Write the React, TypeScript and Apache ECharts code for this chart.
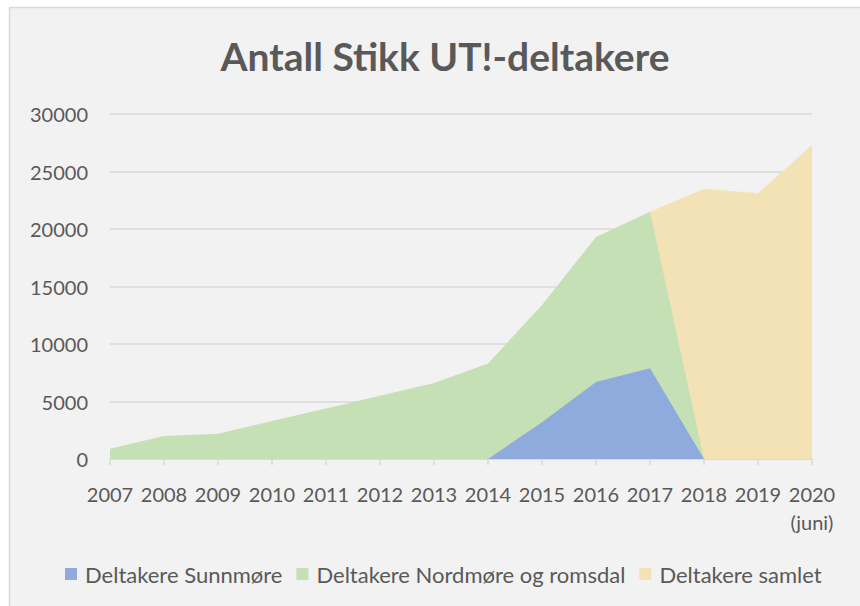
import React, { useEffect, useRef } from "react";
import * as echarts from "echarts";

const years = ["2007", "2008", "2009", "2010", "2011", "2012", "2013", "2014", "2015", "2016", "2017", "2018", "2019", "2020\n(juni)"];
const sunnmore = [0, 0, 0, 0, 0, 0, 0, 0, 3200, 6700, 7900, 0, 0, 0];
const nordmore = [900, 2000, 2200, 3300, 4400, 5500, 6600, 8300, 13400, 19300, 21500, 0, 0, 0];
const samlet = [0, 0, 0, 0, 0, 0, 0, 0, 0, 0, 21500, 23500, 23100, 27300];
const seriesNames = ["Deltakere Sunnmøre", "Deltakere Nordmøre og romsdal", "Deltakere samlet"];
const yTicks = { min: 0, max: 30000, interval: 5000 };

export default function App() {
  const ref = useRef<HTMLDivElement>(null);
  useEffect(() => {
    if (!ref.current) return;
    const chart = echarts.init(ref.current, undefined, { renderer: "svg" });
    const font = "Lato";
    const txt = "#595959";
    chart.setOption({
      animation: false,
      backgroundColor: "#ffffff",
      graphic: [
        {
          type: "rect",
          z: -10,
          silent: true,
          shape: { x: 9.5, y: 7.5, width: 870, height: 620 },
          style: { fill: "#f2f2f2", stroke: "#d9d9d9", lineWidth: 1.5 },
        },
      ],
      title: {
        text: "Antall Stikk UT!-deltakere",
        left: 440,
        textAlign: "center",
        top: 31,
        textStyle: { fontFamily: font, fontWeight: "bold", fontSize: 39, color: txt },
      },
      legend: {
        data: seriesNames,
        top: 558,
        left: 60,
        icon: "rect",
        itemWidth: 12,
        itemHeight: 12,
        itemGap: 14,
        textStyle: { fontFamily: font, fontSize: 22, color: txt, padding: [0, 0, 0, 3] },
      },
      grid: { left: 110, right: 48, top: 114, bottom: 147 },
      xAxis: {
        type: "category",
        data: years,
        boundaryGap: false,
        axisLine: { lineStyle: { color: "#d9d9d9", width: 1.5 } },
        axisTick: { show: true, length: 6, lineStyle: { color: "#d9d9d9", width: 1.5 } },
        axisLabel: { fontFamily: font, fontSize: 20, color: txt, margin: 21, lineHeight: 28, interval: 0 },
      },
      yAxis: {
        type: "value",
        min: yTicks.min,
        max: yTicks.max,
        interval: yTicks.interval,
        axisLine: { show: false },
        axisTick: { show: false },
        splitLine: { lineStyle: { color: "#d9d9d9", width: 1.5 } },
        axisLabel: { fontFamily: font, fontSize: 20, color: txt, margin: 22, formatter: (v: number) => String(v) },
      },
      series: [
        {
          name: seriesNames[2],
          type: "line",
          data: samlet,
          symbol: "none",
          lineStyle: { width: 0 },
          itemStyle: { color: "#f3e2b5" },
          areaStyle: { color: "#f3e2b5", opacity: 1 },
          z: 2,
        },
        {
          name: seriesNames[1],
          type: "line",
          data: nordmore,
          symbol: "none",
          lineStyle: { width: 0 },
          itemStyle: { color: "#c5e0b4" },
          areaStyle: { color: "#c5e0b4", opacity: 1 },
          z: 3,
        },
        {
          name: seriesNames[0],
          type: "line",
          data: sunnmore,
          symbol: "none",
          lineStyle: { width: 0 },
          itemStyle: { color: "#8faadc" },
          areaStyle: { color: "#8faadc", opacity: 1 },
          z: 4,
        },
      ],
    });
    return () => chart.dispose();
  }, []);
  return (
    <div
      ref={ref}
      style={{ position: "fixed", left: 0, top: 0, width: 860, height: 606 }}
    />
  );
}
